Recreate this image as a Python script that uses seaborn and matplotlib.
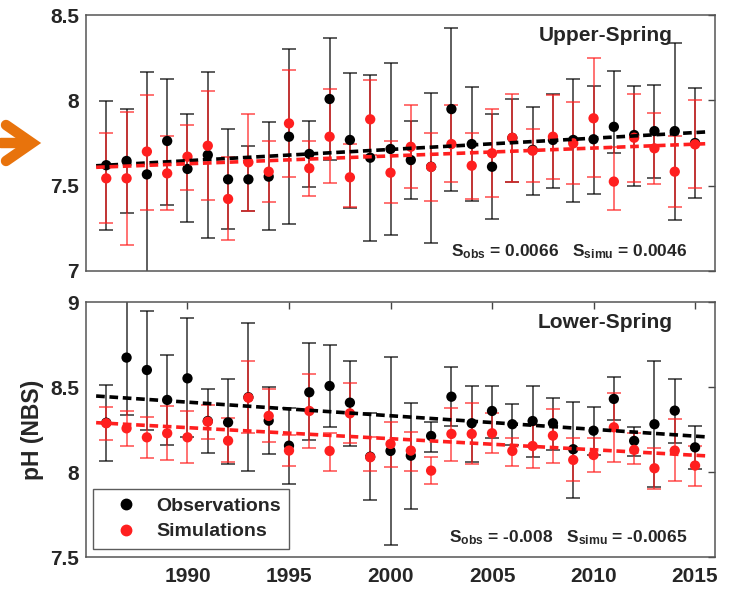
import numpy as np
import pandas as pd
import matplotlib
matplotlib.use("Agg")
import matplotlib.pyplot as plt
from matplotlib.lines import Line2D
import seaborn as sns

# ---- data ----
years = list(range(1986, 2016))

# Upper-Spring
up_obs = [7.62, 7.645, 7.566, 7.762, 7.598, 7.68, 7.537, 7.537, 7.553, 7.787,
          7.686, 8.008, 7.768, 7.664, 7.715, 7.65, 7.611, 7.949, 7.744, 7.611,
          7.78, 7.71, 7.768, 7.768, 7.772, 7.845, 7.797, 7.82, 7.82, 7.75]
up_obs_hi = [7.996, 7.949, 8.164, 8.123, 7.918, 8.164, 7.83, 7.732, 7.873, 8.30,
             7.879, 8.367, 8.158, 8.148, 8.22, 7.88, 8.045, 8.426, 8.08, 7.918,
             8.008, 7.963, 8.037, 8.123, 8.086, 8.174, 8.086, 8.09, 8.338, 8.074]
up_obs_lo = [7.24, 7.341, 6.95, 7.389, 7.285, 7.193, 7.248, 7.353, 7.24, 7.275,
             7.494, 7.65, 7.367, 7.176, 7.211, 7.422, 7.166, 7.47, 7.41, 7.303,
             7.522, 7.445, 7.488, 7.406, 7.449, 7.69, 7.50, 7.543, 7.299, 7.426]
up_sim = [7.543, 7.543, 7.70, 7.572, 7.67, 7.734, 7.422, 7.637, 7.582, 7.865,
          7.602, 7.787, 7.549, 7.889, 7.576, 7.728, 7.61, 7.744, 7.617, 7.69,
          7.781, 7.705, 7.787, 7.748, 7.895, 7.524, 7.781, 7.719, 7.582, 7.742]
up_sim_hi = [7.807, 7.932, 8.03, 7.791, 7.855, 8.056, 7.67, 7.918, 7.762, 8.178,
             7.762, 8.068, 7.742, 8.117, 7.76, 7.973, 7.81, 7.973, 7.81, 7.947,
             8.035, 7.83, 8.03, 7.992, 8.246, 7.728, 8.035, 7.928, 7.791, 8.002]
up_sim_lo = [7.283, 7.15, 7.36, 7.357, 7.475, 7.416, 7.18, 7.353, 7.403, 7.553,
             7.441, 7.516, 7.373, 7.68, 7.40, 7.484, 7.412, 7.52, 7.42, 7.432,
             7.522, 7.522, 7.537, 7.508, 7.549, 7.357, 7.524, 7.508, 7.377, 7.484]

# Lower-Spring
lo_obs = [8.29, 8.673, 8.60, 8.424, 8.551, 8.30, 8.292, 8.44, 8.302, 8.155,
          8.469, 8.506, 8.408, 8.09, 8.124, 8.096, 8.212, 8.443, 8.287, 8.359,
          8.281, 8.30, 8.287, 8.134, 8.243, 8.43, 8.183, 8.281, 8.361, 8.145]
lo_obs_hi = [8.512, 9.05, 8.949, 8.688, 8.904, 8.486, 8.547, 8.875, 8.498, 8.378,
             8.761, 8.747, 8.655, 8.345, 8.675, 8.408, 8.296, 8.616, 8.508, 8.508,
             8.398, 8.506, 8.433, 8.414, 8.384, 8.557, 8.263, 8.655, 8.545, 8.271]
lo_obs_lo = [8.067, 8.335, 8.247, 8.159, 8.208, 8.11, 8.045, 8.006, 8.106, 7.928,
             8.189, 8.267, 8.155, 7.836, 7.571, 7.781, 8.12, 8.271, 8.061, 8.198,
             8.159, 8.087, 8.13, 7.849, 8.10, 8.306, 8.094, 7.914, 8.173, 8.016]
lo_sim = [8.287, 8.257, 8.204, 8.228, 8.204, 8.296, 8.184, 8.437, 8.33, 8.126,
          8.359, 8.124, 8.345, 8.087, 8.165, 8.126, 8.008, 8.224, 8.224, 8.228,
          8.124, 8.153, 8.214, 8.071, 8.10, 8.263, 8.13, 8.022, 8.126, 8.038]
lo_sim_hi = [8.38, 8.36, 8.326, 8.388, 8.36, 8.394, 8.32, 8.653, 8.486, 8.218,
             8.575, 8.232, 8.522, 8.204, 8.296, 8.238, 8.09, 8.375, 8.408, 8.349,
             8.20, 8.277, 8.371, 8.198, 8.198, 8.463, 8.23, 8.14, 8.31, 8.153]
lo_sim_lo = [8.189, 8.155, 8.081, 8.071, 8.051, 8.193, 8.061, 8.228, 8.179, 8.036,
             8.143, 8.008, 8.169, 8.008, 8.028, 8.006, 7.93, 8.067, 8.045, 8.114,
             8.036, 8.022, 8.055, 7.947, 8.002, 8.061, 8.045, 7.90, 7.947, 7.918]

# trend lines: value at 1986 and slope per year
up_trend = {"obs": (7.62, 0.0066), "sim": (7.61, 0.0046)}
lo_trend = {"obs": (8.443, -0.008), "sim": (8.287, -0.0065)}

panels = [
    dict(name="Upper-Spring", obs=(up_obs, up_obs_lo, up_obs_hi),
         sim=(up_sim, up_sim_lo, up_sim_hi), trend=up_trend,
         ylim=(7, 8.5), yticks=[7, 7.5, 8, 8.5], s_obs="0.0066", s_sim="0.0046"),
    dict(name="Lower-Spring", obs=(lo_obs, lo_obs_lo, lo_obs_hi),
         sim=(lo_sim, lo_sim_lo, lo_sim_hi), trend=lo_trend,
         ylim=(7.5, 9), yticks=[7.5, 8, 8.5, 9], s_obs="-0.008", s_sim="-0.0065"),
]

sns.set_style("white")
plt.rcParams["font.family"] = ["Liberation Sans", "DejaVu Sans"]
plt.rcParams["font.weight"] = "bold"
plt.rcParams["mathtext.fontset"] = "custom"
plt.rcParams["mathtext.rm"] = "Liberation Sans:bold"
plt.rcParams["mathtext.bf"] = "Liberation Sans:bold"
plt.rcParams["mathtext.it"] = "Liberation Sans:bold"

fig = plt.figure(figsize=(7.31, 5.91), dpi=100)
ax_top = fig.add_axes([0.1176, 0.5415, 0.861, 0.433])
ax_bot = fig.add_axes([0.1176, 0.0575, 0.861, 0.4315])

colors = {"obs": "black", "sim": "#ff1f1f"}
labels = {"obs": "Observations", "sim": "Simulations"}
yr = np.array(years)
x_line = np.linspace(1985.5, 2015.5, 50)

for ax, p in zip([ax_top, ax_bot], panels):
    # error bars first, dots on top, dashed trends last
    for key in ["obs", "sim"]:
        val, lo, hi = (np.array(a) for a in p[key])
        ax.errorbar(yr, val, yerr=[val - lo, hi - val], fmt="none",
                    ecolor=colors[key], elinewidth=1.1, capsize=4.8,
                    capthick=1.1, alpha=0.8, zorder=2)
    df = pd.DataFrame({
        "year": np.concatenate([yr, yr]),
        "pH": np.concatenate([p["obs"][0], p["sim"][0]]),
        "series": [labels["obs"]] * len(yr) + [labels["sim"]] * len(yr),
    })
    sns.scatterplot(data=df, x="year", y="pH", hue="series",
                    palette=[colors["obs"], colors["sim"]], s=55,
                    edgecolor="none", ax=ax, zorder=3, legend=False)
    for key in ["obs", "sim"]:
        b0, s = p["trend"][key]
        tr = pd.DataFrame({"year": x_line, "pH": b0 + s * (x_line - 1986)})
        sns.lineplot(data=tr, x="year", y="pH", ax=ax, color=colors[key],
                     lw=2.6, linestyle=(0, (2.4, 1.3)), zorder=4)

    ax.set_xlim(1985, 2016)
    ax.set_ylim(*p["ylim"])
    ax.set_yticks(p["yticks"])
    ax.set_yticklabels([f"{t:g}" for t in p["yticks"]])
    ax.set_xlabel("")
    ax.set_ylabel("")
    ax.tick_params(direction="in", length=5, width=1, labelsize=15,
                   color="#444444", right=True, top=True)
    ax.tick_params(axis="y", pad=5)
    for sp in ax.spines.values():
        sp.set_color("#555555")
        sp.set_linewidth(1.1)
    ax.text(0.932, 0.92, p["name"], transform=ax.transAxes, ha="right",
            va="center", fontsize=15, fontweight="bold")
    ax.text(0.955, 0.075,
            r"$\mathbf{S_{obs}}$ = " + p["s_obs"] + r"   $\mathbf{S_{simu}}$ = " + p["s_sim"],
            transform=ax.transAxes, ha="right", va="center", fontsize=12.5,
            fontweight="bold")

ax_top.set_xticks([])
ax_bot.set_xticks([1990, 1995, 2000, 2005, 2010, 2015])
ax_bot.tick_params(axis="x", pad=7)

# legend
handles = [Line2D([], [], marker="o", ls="none", color=colors[k], markersize=7.5)
           for k in ["obs", "sim"]]
leg = ax_bot.legend(handles, [labels["obs"], labels["sim"]], loc="lower left",
                    bbox_to_anchor=(0.011, 0.031), borderaxespad=0,
                    fancybox=False, frameon=True, fontsize=14,
                    handlelength=2.5, handletextpad=0.3, borderpad=0.45,
                    labelspacing=0.4)
leg.get_frame().set_edgecolor("#333333")
leg.get_frame().set_linewidth(1.0)

fig.text(0.044, 0.272, "pH (NBS)", rotation=90, ha="center", va="center",
         fontsize=16.5, fontweight="bold")

# orange arrow on the left (pixel coordinates, origin bottom-left)
arrow_kw = dict(transform=None, color="#e8730c", lw=7.5,
                solid_capstyle="round", solid_joinstyle="miter")
fig.add_artist(Line2D([1, 29], [448, 448], **arrow_kw))
fig.add_artist(Line2D([6, 32, 6], [466, 448, 430], **arrow_kw))

fig.savefig("out.png", dpi=100)
